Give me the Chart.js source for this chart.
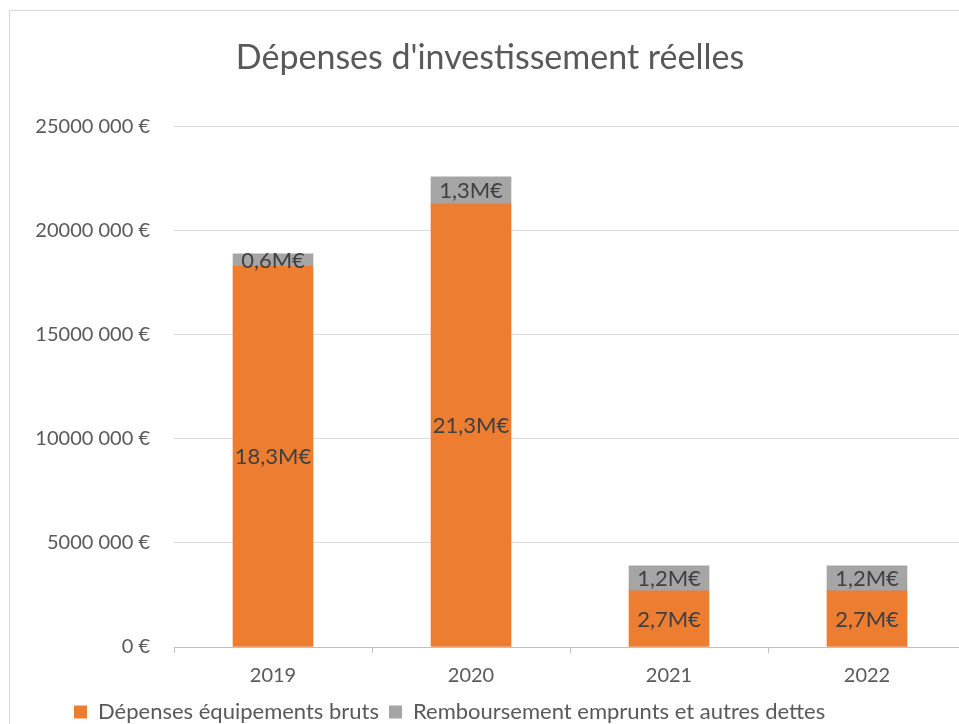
<!DOCTYPE html>
<html>
<head>
<meta charset="utf-8">
<script src="https://cdn.jsdelivr.net/npm/chart.js@4"></script>
<style>
  html, body { margin: 0; padding: 0; background: #fff; overflow: hidden; width: 959px; height: 724px; }
  #frame {
    position: absolute; left: 9px; top: 10px;
    width: 1000px; height: 760px;
    border: 1px solid #d9d9d9; box-sizing: border-box;
  }
  #wrap { position: absolute; left: 0; top: 0; width: 980px; height: 724px; }
</style>
</head>
<body>
<div id="frame"></div>
<div id="wrap"><canvas id="investChart"></canvas></div>
<script>
const annees = ['2019', '2020', '2021', '2022'];
const depensesEquipement = [18300000, 21300000, 2700000, 2700000];
const remboursementEmprunts = [600000, 1300000, 1200000, 1200000];
const yTicks = [0, 5000000, 10000000, 15000000, 20000000, 25000000];

const FONT = "Lato, 'Open Sans', sans-serif";

function formatM(v) {
    return (v / 1e6).toFixed(1).replace('.', ',') + 'M€';
}
function formatEuro(v) {
    return v === 0 ? '0 €' : (v / 1000) + ' 000 €';
}

// draws the value in the middle of each stacked segment
const barLabels = {
    id: 'barLabels',
    afterDatasetsDraw(chart) {
        const ctx = chart.ctx;
        ctx.save();
        ctx.font = '22px ' + FONT;
        ctx.fillStyle = '#404040';
        ctx.textAlign = 'center';
        ctx.textBaseline = 'middle';
        chart.data.datasets.forEach((ds, i) => {
            chart.getDatasetMeta(i).data.forEach((bar, j) => {
                const mid = (bar.y + bar.base) / 2;
                ctx.fillText(formatM(ds.data[j]), bar.x, mid + 1);
            });
        });
        ctx.restore();
    }
};

// push the legend towards the bottom-left corner
const legendShift = {
    id: 'legendShift',
    afterLayout(chart) {
        chart.legend.left += 50;
        chart.legend.top += 9;
        chart.legend.bottom += 9;
    }
};

const ctx = document.getElementById('investChart').getContext('2d');
new Chart(ctx, {
    type: 'bar',
    data: {
        labels: annees,
        datasets: [{
            label: 'Dépenses équipements bruts',
            data: depensesEquipement,
            backgroundColor: '#ED7D31',
            barThickness: 80
        }, {
            label: 'Remboursement emprunts et autres dettes',
            data: remboursementEmprunts,
            backgroundColor: '#A5A5A5',
            barThickness: 80
        }]
    },
    options: {
        responsive: true,
        maintainAspectRatio: false,
        animation: false,
        layout: { padding: { top: 38, right: 14, left: 14, bottom: 0 } },
        plugins: {
            title: {
                display: true,
                text: "Dépenses d'investissement réelles",
                color: '#595959',
                font: { family: FONT, size: 34, weight: 'normal' },
                padding: { top: 0, bottom: 48 }
            },
            legend: {
                position: 'bottom',
                align: 'start',
                labels: {
                    color: '#595959',
                    font: { family: FONT, size: 22 },
                    boxWidth: 13,
                    boxHeight: 13,
                    padding: 10
                }
            },
            tooltip: { enabled: false }
        },
        scales: {
            x: {
                stacked: true,
                afterFit(scale) { scale.height = 35; },
                grid: { drawOnChartArea: false, drawTicks: true, tickLength: 6, color: '#bfbfbf' },
                border: { color: '#bfbfbf' },
                ticks: { color: '#595959', font: { family: FONT, size: 20 }, padding: 11 }
            },
            y: {
                stacked: true,
                min: 0,
                max: 25000000,
                afterBuildTicks(scale) { scale.ticks = yTicks.map(v => ({ value: v })); },
                afterFit(scale) { scale.width = 160; },
                grid: { color: '#d9d9d9', drawTicks: false },
                border: { display: false },
                ticks: {
                    color: '#595959',
                    font: { family: FONT, size: 20 },
                    padding: 24,
                    callback: v => formatEuro(v)
                }
            }
        }
    },
    plugins: [barLabels, legendShift]
});
</script>
</body>
</html>
